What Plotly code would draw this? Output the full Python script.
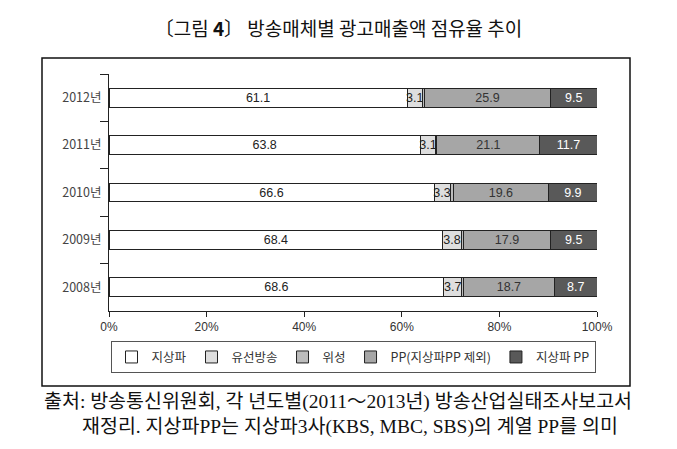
import plotly.graph_objects as go

# 연도별 방송매체 광고매출액 점유율 (%)
years = ['2012년', '2011년', '2010년', '2009년', '2008년']
terrestrial = [61.1, 63.8, 66.6, 68.4, 68.6]      # 지상파
cable = [3.1, 3.1, 3.3, 3.8, 3.7]                 # 유선방송
satellite = [0.4, 0.3, 0.6, 0.4, 0.3]             # 위성
pp = [25.9, 21.1, 19.6, 17.9, 18.7]               # PP(지상파PP 제외)
terrestrial_pp = [9.5, 11.7, 9.9, 9.5, 8.7]       # 지상파 PP

x_ticks = [0, 20, 40, 60, 80, 100]
x_tick_labels = ['0%', '20%', '40%', '60%', '80%', '100%']

series = [
    ('지상파', terrestrial, '#ffffff', '#222222', True),
    ('유선방송', cable, '#dedede', '#222222', True),
    ('위성', satellite, '#bcbcbc', '#222222', False),
    ('PP(지상파PP 제외)', pp, '#a6a6a6', '#333333', True),
    ('지상파 PP', terrestrial_pp, '#595959', '#ffffff', True),
]

fig = go.Figure()
for name, vals, color, txtcolor, show_text in series:
    fig.add_trace(go.Bar(
        y=years, x=vals, name=name, orientation='h',
        marker=dict(color=color, line=dict(color='#222222', width=1)),
        text=[f'{v:.1f}' for v in vals] if show_text else None,
        textposition='inside' if show_text else 'none',
        insidetextanchor='middle',
        textangle=0,
        textfont=dict(color=txtcolor, size=12.5, family='Liberation Sans, Arial, sans-serif'),
        hoverinfo='x+name',
    ))

fig.update_layout(
    barmode='stack',
    bargap=0.6,
    width=677, height=449,
    margin=dict(l=109, r=80, t=74, b=138),
    paper_bgcolor='white', plot_bgcolor='white',
    font=dict(family='Noto Sans CJK KR, sans-serif', color='#333333', size=11),
    uniformtext=dict(minsize=12.5, mode='show'),
    showlegend=True,
    legend=dict(
        orientation='h', x=0.5, xanchor='center', y=-0.128, yanchor='top',
        bordercolor='#555555', borderwidth=1,
        font=dict(size=12.5, color='#333333'),
        traceorder='normal', itemwidth=30,
    ),
    xaxis=dict(
        range=[0, 100], tickvals=x_ticks, ticktext=x_tick_labels,
        showgrid=False, zeroline=False, showline=True, linecolor='#222222',
        ticks='outside', ticklen=5, tickcolor='#222222',
        tickfont=dict(size=12, family='Liberation Sans, Arial, sans-serif', color='#333333'),
        fixedrange=True,
    ),
    yaxis=dict(
        autorange='reversed', showgrid=False, showline=True, linecolor='#222222',
        ticks='outside', ticklen=8, tickcolor='#222222', tickson='boundaries',
        tickfont=dict(size=12.5, color='#444444'),
        ticklabelstandoff=4,
        fixedrange=True,
    ),
    title=dict(
        text='〔그림 <b>4</b>〕 방송매체별 광고매출액 점유율 추이',
        x=0.5, xanchor='center', y=0.935, yanchor='middle',
        font=dict(size=19, color='#111111'),
    ),
    shapes=[dict(
        type='rect', xref='paper', yref='paper',
        x0=-67 / 488, x1=521 / 488, y0=-75 / 237, y1=1 + 16 / 237,
        line=dict(color='#111111', width=1.5), fillcolor='rgba(0,0,0,0)',
    )],
    annotations=[
        dict(text='출처: 방송통신위원회, 각 년도별(2011～2013년) 방송산업실태조사보고서',
             xref='paper', yref='paper', x=-67 / 488, y=-91 / 237,
             xanchor='left', yanchor='middle', showarrow=False,
             font=dict(size=19.5, color='#111111', family='Liberation Serif, Noto Sans CJK KR, serif')),
        dict(text='재정리. 지상파PP는 지상파3사(KBS, MBC, SBS)의 계열 PP를 의미',
             xref='paper', yref='paper', x=-29 / 488, y=-116 / 237,
             xanchor='left', yanchor='middle', showarrow=False,
             font=dict(size=19.5, color='#111111', family='Liberation Serif, Noto Sans CJK KR, serif')),
    ],
)

fig.write_html('out.html', config={'displayModeBar': False},
               post_script="document.body.style.margin='0px';")
